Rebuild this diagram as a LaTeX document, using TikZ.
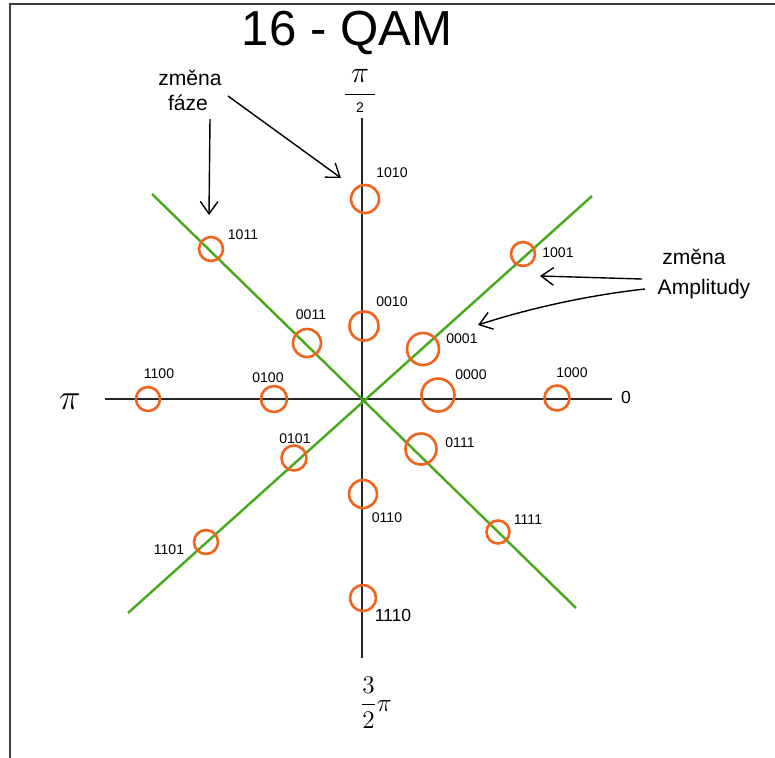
\documentclass[tikz,border=0pt]{standalone}
\usepackage{fontspec}
\setmainfont{Liberation Sans}
\usetikzlibrary{arrows.meta}
\definecolor{orng}{RGB}{240,100,30}
\definecolor{grn}{RGB}{74,170,30}
\definecolor{frame}{RGB}{60,60,60}
\begin{document}
\begin{tikzpicture}[x=0.02cm,y=-0.02cm,
  axis/.style={line width=1.6pt,black!85},
  diag/.style={line width=1.4pt,grn},
  pt/.style={circle,draw=orng,line width=1.5pt,inner sep=0pt},
  bits/.style={font=\fontsize{8}{8}\selectfont,inner sep=0pt},
  note/.style={font=\fontsize{12}{12}\selectfont,inner sep=0pt},
  arr/.style={line width=0.8pt,-{Straight Barb[length=7pt,width=10pt]}}]
\useasboundingbox (0,0) rectangle (775,758);
\draw[frame,line width=1.3pt] (10,758) -- (10,4) -- (775,4);
% title
\node[font=\fontsize{28}{28}\selectfont,inner sep=0pt] (title) at (347,33) {16 - QAM};
% axes
\coordinate (O) at (362,399);
\coordinate (xl) at (105,399);
\coordinate (xr) at (612,399);
\coordinate (yt) at (362,118);
\coordinate (yb) at (362,658);
\draw[axis] (xl) -- (xr);
\draw[axis] (yt) -- (yb);
% diagonals
\coordinate (g1a) at (152,194);
\coordinate (g1b) at (576,608);
\coordinate (g2a) at (592,196);
\coordinate (g2b) at (128,613);
\draw[diag] (g1a) -- (g1b);
\draw[diag] (g2a) -- (g2b);
% axis labels
\node[align=center,inner sep=0pt] (phalf) at (360,91)
  {{\fontsize{16}{16}\selectfont$\pi$}\\[-5pt]\rule{17pt}{0.7pt}\\[-2pt]{\fontsize{8}{8}\selectfont 2}};
\node[font=\fontsize{20}{20}\selectfont,inner sep=0pt] (ppi) at (70,402) {$\pi$};
\node[font=\fontsize{10}{10}\selectfont,inner sep=0pt] (pzero) at (626,397) {0};
\node[font=\fontsize{14}{14}\selectfont,inner sep=0pt] (p3half) at (376,703) {$\displaystyle\frac{3}{2}\pi$};
% constellation points
\node[pt,minimum size=0.56cm] (c1010) at (365,199) {};
\node[pt,minimum size=0.48cm] (c1011) at (211,249) {};
\node[pt,minimum size=0.56cm] (c0011) at (307,343) {};
\node[pt,minimum size=0.58cm] (c0010) at (364,326) {};
\node[pt,minimum size=0.64cm] (c0001) at (423,349) {};
\node[pt,minimum size=0.48cm] (c1001) at (523,254) {};
\node[pt,minimum size=0.66cm] (c0000) at (438,395) {};
\node[pt,minimum size=0.50cm] (c1000) at (557,398) {};
\node[pt,minimum size=0.62cm] (c0111) at (421,449) {};
\node[pt,minimum size=0.56cm] (c0110) at (363,494) {};
\node[pt,minimum size=0.46cm] (c1111) at (498,532) {};
\node[pt,minimum size=0.48cm] (c1100) at (148,399) {};
\node[pt,minimum size=0.52cm] (c0100) at (274,399) {};
\node[pt,minimum size=0.50cm] (c0101) at (294,458) {};
\node[pt,minimum size=0.48cm] (c1101) at (206,542) {};
\node[pt,minimum size=0.52cm] (c1110) at (363,598) {};
% bit labels
\node[bits] (l1010) at (392,173) {1010};
\node[bits] (l1011) at (243,235) {1011};
\node[bits] (l0011) at (311,315) {0011};
\node[bits] (l0010) at (392,302) {0010};
\node[bits] (l0001) at (462,339) {0001};
\node[bits] (l1001) at (558,253) {1001};
\node[bits] (l0000) at (471,375) {0000};
\node[bits] (l1000) at (572,373) {1000};
\node[bits] (l0111) at (460,443) {0111};
\node[bits] (l0110) at (387,518) {0110};
\node[bits] (l1111) at (528,520) {1111};
\node[bits] (l1100) at (159,374) {1100};
\node[bits] (l0100) at (268,378) {0100};
\node[bits] (l0101) at (295,439) {0101};
\node[bits] (l1101) at (169,550) {1101};
\node[bits,font=\fontsize{10}{10}\selectfont] (l1110) at (393,615) {1110};
% annotations
\node[note] (zm1) at (190,78) {změna};
\node[note] (fz) at (188,103) {fáze};
\node[note] (zm2) at (694,257) {změna};
\node[note] (amp) at (704,289) {Amplitudy};
\coordinate (a1s) at (210,119);
\coordinate (a1t) at (209,215);
\coordinate (a2s) at (228,96);
\coordinate (a2t) at (341,178);
\coordinate (a3s) at (642,279);
\coordinate (a3t) at (540,276);
\coordinate (a4s) at (645,289);
\coordinate (a4t) at (478,325);
\draw[arr] (a1s) -- (a1t);
\draw[arr] (a2s) -- (a2t);
\draw[arr] (a3s) -- (a3t);
\draw[arr] (a4s) .. controls (590,295) and (530,308) .. (a4t);
\end{tikzpicture}
\end{document}
